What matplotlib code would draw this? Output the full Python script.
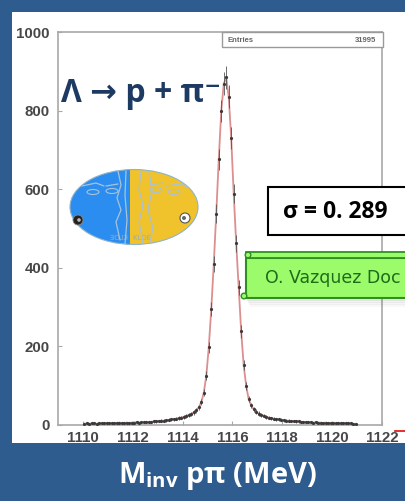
import numpy as np
import matplotlib
matplotlib.use("Agg")
import matplotlib.pyplot as plt
from matplotlib.patches import Rectangle, Ellipse, Circle, PathPatch
from matplotlib.textpath import TextPath
from matplotlib.font_manager import FontProperties
from matplotlib.transforms import Affine2D

# ---- histogram data: invariant mass of p pi- pairs ----
bin_start = 1110.0
bin_width = 0.1
counts = [
    3, 4, 3, 4, 4, 3, 5, 4, 4, 5,
    4, 5, 4, 5, 6, 5, 5, 6, 5, 6,
    6, 7, 6, 7, 7, 8, 7, 8, 9, 9,
    10, 11, 11, 12, 13, 14, 15, 16, 18, 19,
    21, 23, 26, 28, 32, 37, 45, 58, 82, 125,
    198, 295, 410, 538, 676, 798, 868, 885, 835, 730,
    588, 462, 350, 238, 152, 100, 66, 50, 40, 34,
    29, 26, 24, 21, 19, 17, 16, 15, 14, 13,
    12, 11, 11, 10, 10, 9, 9, 8, 8, 7,
    7, 7, 6, 7, 6, 6, 5, 6, 5, 5,
    5, 4, 5, 4, 5, 4, 4, 4, 3, 3,
]
x_ticks = [1110, 1112, 1114, 1116, 1118, 1120, 1122]
x_ticklabels = ["1110", "1112", "1114", "1116", "1118", "1120", "1122"]
y_ticks = [0, 200, 400, 600, 800, 1000]
y_ticklabels = ["0", "200", "400", "600", "800", "1000"]
entries_label = "Entries"
entries_value = "31995"
sigma_label = "σ = 0. 289"
author_label = "O. Vazquez Doc"
decay_label = "Λ → p + π⁻"
axis_title = "M$_{\\mathbf{inv}}$ pπ (MeV)"

counts = np.asarray(counts, dtype=float)
centers = bin_start + bin_width * (np.arange(len(counts)) + 0.5)

plt.rcParams["mathtext.fontset"] = "custom"
plt.rcParams["mathtext.bf"] = "Open Sans:bold"
plt.rcParams["mathtext.rm"] = "Open Sans"

W, H = 405, 501
BLUE = "#2f5c8e"
fig = plt.figure(figsize=(W / 100, H / 100), dpi=100, facecolor=BLUE)


def px_axes(z):
    a = fig.add_axes([0, 0, 1, 1], zorder=z)
    a.set_xlim(0, W)
    a.set_ylim(H, 0)
    a.axis("off")
    a.patch.set_alpha(0)
    return a


# background: white slide panel
bg = px_axes(0)
bg.add_patch(Rectangle((12, 12), W - 12, 431, facecolor="white", edgecolor="none"))

# ---- main histogram axes ----
L, R, T, B = 58, 382, 32, 425
ax = fig.add_axes([L / W, 1 - B / H, (R - L) / W, (B - T) / H], zorder=1)
ax.patch.set_alpha(0)
ax.set_xlim(1109, 1122)
ax.set_ylim(0, 1000)
for s in ax.spines.values():
    s.set_color("#a8a8a8")
    s.set_linewidth(1.2)

ax.plot(centers, counts, color="#dc8f8f", lw=1.3, zorder=2)
ax.errorbar(centers, counts, yerr=np.sqrt(counts), fmt="o", ms=1.3,
            color="#3a3a3a", ecolor="#555555", elinewidth=0.6, capsize=0,
            zorder=3)

ax.set_xticks(x_ticks)
ax.set_xticklabels(x_ticklabels, fontweight="bold", family="Liberation Sans")
ax.set_yticks(y_ticks)
ax.set_yticklabels(y_ticklabels, fontweight="bold", family="Liberation Sans")
ax.tick_params(axis="both", direction="in", length=3, color="#a8a8a8",
               labelsize=10.8, labelcolor="#474747")
ax.tick_params(axis="x", pad=4.5)
ax.tick_params(axis="y", pad=6)

# ---- overlay annotations in pixel coordinates ----
ov = px_axes(2)

# statistics box
ov.add_patch(Rectangle((222, 32), 161, 15, facecolor="white",
                       edgecolor="#9a9a9a", lw=1.0))
ov.text(228, 40, entries_label, fontsize=5.5, color="#666666",
        va="center", ha="left", family="Liberation Sans", fontweight="bold")
ov.text(376, 40, entries_value, fontsize=5.5, color="#666666",
        va="center", ha="right", family="Liberation Sans", fontweight="bold")

# decay channel
ov.text(61, 102, decay_label, fontsize=23, color="#1d3a63",
        fontweight="bold", family=["Open Sans", "DejaVu Sans"],
        ha="left", va="baseline")

# experiment logo: two-coloured ellipse with faces
cx, cy, ew, eh = 134, 207, 128, 75
split = 130
clip_l = Rectangle((0, 0), split, H, transform=ov.transData)
clip_r = Rectangle((split, 0), W - split, H, transform=ov.transData)
e_l = Ellipse((cx, cy), ew, eh, facecolor="#2b8df0", edgecolor="none")
e_r = Ellipse((cx, cy), ew, eh, facecolor="#f0c22c", edgecolor="none")
ov.add_patch(e_l)
ov.add_patch(e_r)
e_l.set_clip_path(clip_l)
e_r.set_clip_path(clip_r)
ov.add_patch(Ellipse((cx, cy), ew, eh, facecolor="none",
                     edgecolor="#8fb4c8", lw=0.8))

line_c = "#a9c3d6"
face_lines = [
    [(118, 171), (121, 185), (117, 198), (121, 210), (116, 222), (120, 240)],
    [(126, 171), (125, 195), (127, 220), (125, 244)],
    [(82, 186), (96, 183), (104, 186)],
    [(106, 186), (118, 184)],
    [(141, 171), (139, 190), (143, 205), (139, 222), (143, 243)],
    [(149, 172), (152, 190), (148, 210), (153, 228), (150, 242)],
    [(150, 185), (163, 183)],
    [(166, 186), (180, 184), (188, 187)],
]
for pts in face_lines:
    xs, ys = zip(*pts)
    ov.plot(xs, ys, color=line_c, lw=0.9, solid_capstyle="round")
for ex, ey in [(93, 192), (112, 191), (156, 190), (174, 192)]:
    ov.add_patch(Ellipse((ex, ey), 12, 5, facecolor="none",
                         edgecolor=line_c, lw=0.8))
ov.add_patch(Circle((78, 220), 5, facecolor="#222222", edgecolor="#888888", lw=0.6))
ov.add_patch(Circle((79, 220), 1.8, facecolor="#bbbbbb", edgecolor="none"))
ov.add_patch(Circle((185, 218), 5, facecolor="white", edgecolor="#555555", lw=0.8))
ov.add_patch(Circle((184, 218), 2, facecolor="#666666", edgecolor="none"))

kfont = FontProperties(family="DejaVu Sans", size=6)
tp = TextPath((0, 0), "KLOE", prop=kfont, size=7)
ov.add_patch(PathPatch(tp, transform=Affine2D().scale(1, -1).translate(133, 240) + ov.transData,
                       facecolor="#8fb0c6", edgecolor="none"))
ov.add_patch(PathPatch(tp, transform=Affine2D().scale(-1, -1).translate(128, 240) + ov.transData,
                       facecolor="#8fb0c6", edgecolor="none"))

# resolution box
ov.add_patch(Rectangle((268, 187), 160, 48, facecolor="white",
                       edgecolor="black", lw=1.5))
ov.text(283, 212, sigma_label, fontsize=16.5, color="black", fontweight="bold",
        family=["Open Sans", "DejaVu Sans"], ha="left", va="center")

# author scroll with shadow
for k, a in enumerate([0.10, 0.08, 0.06, 0.04]):
    ov.add_patch(Rectangle((247 + k, 298 + k * 2), 200, 3, facecolor="#606060",
                           edgecolor="none", alpha=a))
green_face, green_edge = "#9cfb6a", "#2f8f22"
ov.add_patch(Rectangle((246, 258), 200, 40, facecolor=green_face,
                       edgecolor=green_edge, lw=1.5))
ov.add_patch(Rectangle((246, 252), 200, 6, facecolor=green_face,
                       edgecolor=green_edge, lw=1.3))
ov.add_patch(Circle((248, 255), 2.8, facecolor=green_face, edgecolor=green_edge, lw=1.0))
ov.add_patch(Circle((244, 296), 2.8, facecolor=green_face, edgecolor=green_edge, lw=1.0))
ov.text(265, 278, author_label, fontsize=12.5, color="#1f6b1a",
        family="DejaVu Sans", ha="left", va="center")

# small red marker at the bottom right
ov.plot([395, 405], [431, 431], color="#e02020", lw=1.3)

# axis title on the blue band
ov.text(217, 483, axis_title, fontsize=21, color="white", fontweight="bold",
        family=["Open Sans", "DejaVu Sans"], ha="center", va="baseline")

fig.savefig("out.png", dpi=100, facecolor=BLUE)
